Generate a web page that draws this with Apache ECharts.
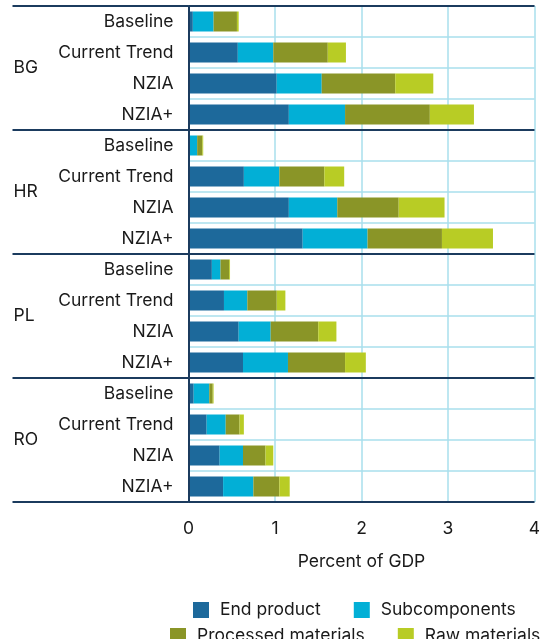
<!DOCTYPE html>
<html>
<head>
<meta charset="utf-8">
<script src="https://cdn.jsdelivr.net/npm/echarts@6/dist/echarts.min.js"></script>
<style>
  html, body { margin: 0; padding: 0; background: #ffffff; }
  #chart { width: 546px; height: 639px; }
</style>
</head>
<body>
<div id="chart"></div>
<script>
// Countries and scenarios (rows are listed top to bottom)
const countries = ['BG', 'HR', 'PL', 'RO'];
const scenarios = ['Baseline', 'Current Trend', 'NZIA', 'NZIA+'];

// Share of GDP per value-chain segment, in row order (BG x4, HR x4, PL x4, RO x4)
const endProduct    = [0.05, 0.57, 1.02, 1.16,  0.00, 0.64, 1.16, 1.32,  0.27, 0.41, 0.58, 0.63,  0.06, 0.21, 0.36, 0.40];
const subcomponents = [0.24, 0.41, 0.52, 0.65,  0.10, 0.41, 0.56, 0.75,  0.10, 0.27, 0.37, 0.52,  0.18, 0.22, 0.27, 0.35];
const processed     = [0.27, 0.63, 0.85, 0.98,  0.06, 0.52, 0.71, 0.86,  0.10, 0.34, 0.55, 0.66,  0.04, 0.16, 0.26, 0.30];
const rawMaterials  = [0.02, 0.21, 0.44, 0.51,  0.01, 0.23, 0.53, 0.59,  0.01, 0.10, 0.21, 0.24,  0.01, 0.05, 0.09, 0.12];

const seriesNames = ['End product', 'Subcomponents', 'Processed materials', 'Raw materials'];
const seriesValues = [endProduct, subcomponents, processed, rawMaterials];
const seriesColors = ['#1d699b', '#02afd6', '#8a9527', '#b8cc25'];

const xTicks = [0, 1, 2, 3, 4];

// One category per row; the key keeps rows unique, the label shows the scenario
const rowKeys = [];
countries.forEach(c => scenarios.forEach(s => rowKeys.push(c + '|' + s)));

const FONT = 'Inter, "Noto Sans", sans-serif';
const FS = 17.5;
const TEXT = '#1a1a1a';
const NAVY = '#1b3b5e';
const GRID_CYAN = '#a8dfec';

const chart = echarts.init(document.getElementById('chart'), null, { renderer: 'canvas' });

const legendBase = {
  padding: 0,
  itemWidth: 16, itemHeight: 16, itemGap: 33,
  icon: 'rect',
  textStyle: { fontFamily: FONT, fontSize: FS, color: TEXT, padding: [0, 0, 0, 6] }
};

chart.setOption({
  animation: false,
  backgroundColor: '#ffffff',
  grid: { left: 188.5, right: 11.5, top: 6, bottom: 137, containLabel: false },
  xAxis: {
    type: 'value',
    min: xTicks[0],
    max: xTicks[xTicks.length - 1],
    interval: 1,
    name: 'Percent of GDP',
    nameLocation: 'middle',
    nameGap: 51,
    nameTextStyle: { fontFamily: FONT, fontSize: FS, color: TEXT },
    axisLine: { show: false },
    axisTick: { show: false },
    axisLabel: { fontFamily: FONT, fontSize: FS, color: TEXT, margin: 18 },
    splitLine: { show: true, lineStyle: { color: GRID_CYAN, width: 1.5 } }
  },
  yAxis: [
    {
      type: 'category',
      data: rowKeys,
      inverse: true,
      position: 'left',
      z: 1,
      axisLine: { show: false },
      axisTick: { show: false },
      axisLabel: {
        fontFamily: FONT, fontSize: FS, color: TEXT, margin: 15,
        formatter: v => v.split('|')[1]
      },
      splitLine: { show: true, lineStyle: { color: GRID_CYAN, width: 1.5 } }
    },
    {
      type: 'category',
      data: countries,
      inverse: true,
      position: 'left',
      z: 5,
      axisLine: { show: true, onZero: false, lineStyle: { color: NAVY, width: 2 } },
      axisTick: { show: true, inside: false, length: 176, lineStyle: { color: NAVY, width: 2 } },
      axisLabel: {
        fontFamily: FONT, fontSize: FS, color: TEXT,
        align: 'left', margin: 175
      },
      splitLine: { show: true, lineStyle: { color: NAVY, width: 2 } }
    }
  ],
  legend: [
    Object.assign({ data: seriesNames.slice(0, 2), left: 193, top: 601 }, legendBase),
    Object.assign({ data: seriesNames.slice(2, 4), left: 170, top: 627 }, legendBase)
  ],
  series: seriesNames.map((name, i) => ({
    name: name,
    type: 'bar',
    stack: 'total',
    yAxisIndex: 0,
    barWidth: 20,
    itemStyle: { color: seriesColors[i] },
    data: seriesValues[i]
  }))
});
</script>
</body>
</html>
